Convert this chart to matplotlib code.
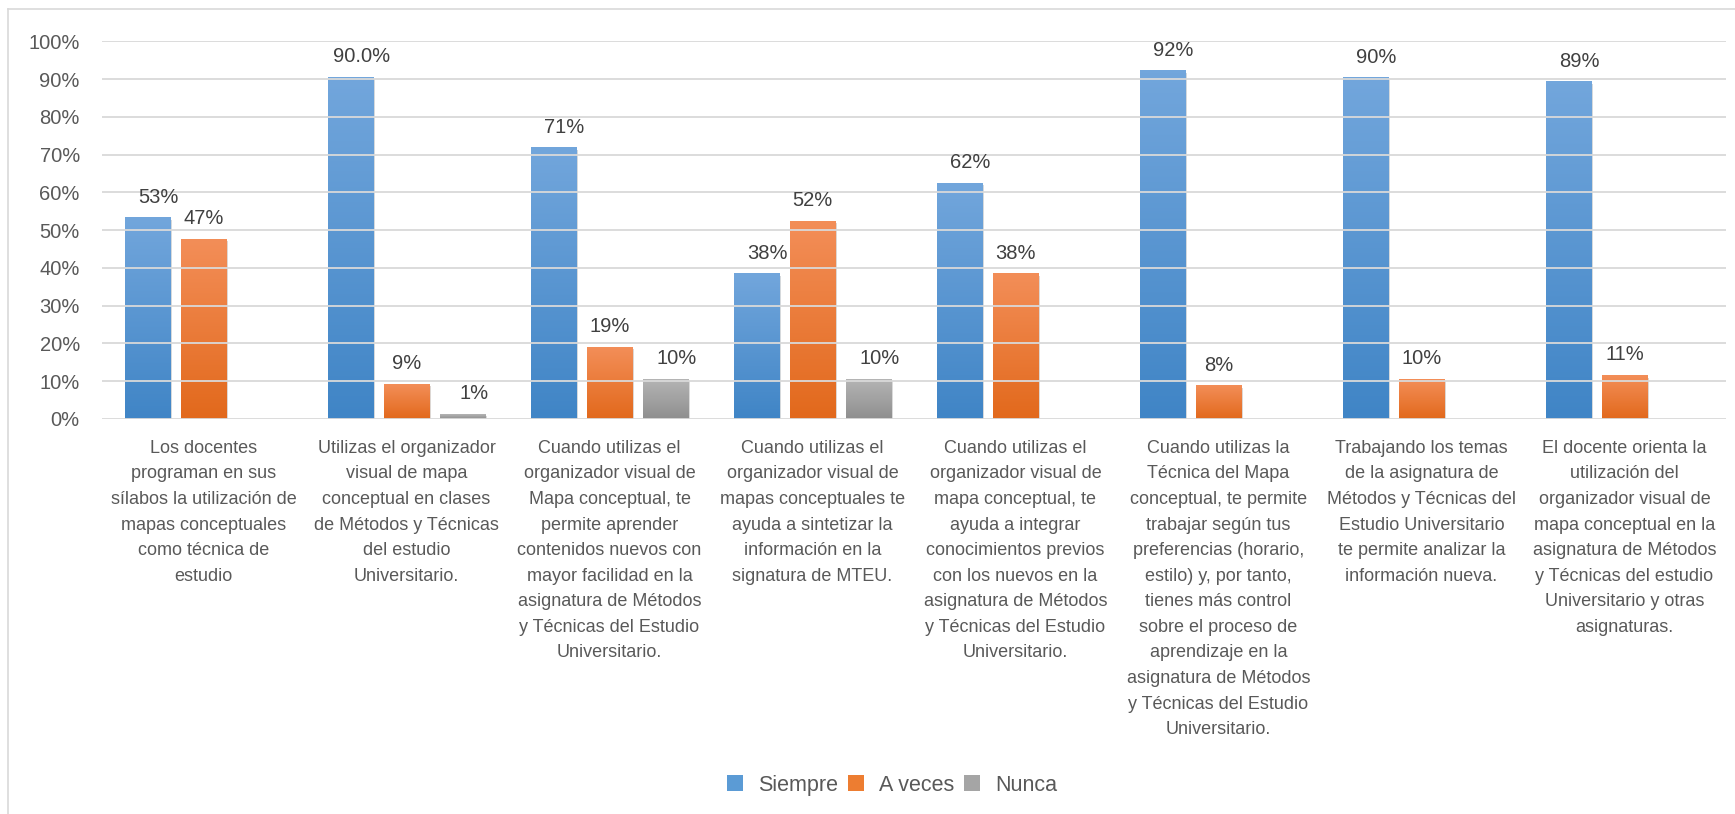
import numpy as np
import matplotlib
matplotlib.use('Agg')
import matplotlib.pyplot as plt
from matplotlib.colors import LinearSegmentedColormap
from matplotlib.lines import Line2D
from matplotlib.patches import Patch
import matplotlib.patheffects as pe

# Data
categories = [
    "Los docentes\nprograman en sus\nsílabos la utilización de\nmapas conceptuales\ncomo técnica de\nestudio",
    "Utilizas el organizador\nvisual de mapa\nconceptual en clases\nde Métodos y Técnicas\ndel estudio\nUniversitario.",
    "Cuando utilizas el\norganizador visual de\nMapa conceptual, te\npermite aprender\ncontenidos nuevos con\nmayor facilidad en la\nasignatura de Métodos\ny Técnicas del Estudio\nUniversitario.",
    "Cuando utilizas el\norganizador visual de\nmapas conceptuales te\nayuda a sintetizar la\ninformación en la\nsignatura de MTEU.",
    "Cuando utilizas el\norganizador visual de\nmapa conceptual, te\nayuda a integrar\nconocimientos previos\ncon los nuevos en la\nasignatura de Métodos\ny Técnicas del Estudio\nUniversitario.",
    "Cuando utilizas la\nTécnica del Mapa\nconceptual, te permite\ntrabajar según tus\npreferencias (horario,\nestilo) y, por tanto,\ntienes más control\nsobre el proceso de\naprendizaje en la\nasignatura de Métodos\ny Técnicas del Estudio\nUniversitario.",
    "Trabajando los temas\nde la asignatura de\nMétodos y Técnicas del\nEstudio Universitario\nte permite analizar la\ninformación nueva.",
    "El docente orienta la\nutilización del\norganizador visual de\nmapa conceptual en la\nasignatura de Métodos\ny Técnicas del estudio\nUniversitario y otras\nasignaturas.",
]
series_names = ['Siempre', 'A veces', 'Nunca']
siempre = [53.3, 90.5, 71.8, 38.4, 62.4, 92.2, 90.3, 89.3]
a_veces = [47.6, 9.2, 19.0, 52.4, 38.4, 8.8, 10.5, 11.5]
nunca = [0, 1.3, 10.5, 10.5, 0, 0, 0, 0]
siempre_lbl = ['53%', '90.0%', '71%', '38%', '62%', '92%', '90%', '89%']
a_veces_lbl = ['47%', '9%', '19%', '52%', '38%', '8%', '10%', '11%']
nunca_lbl = ['', '1%', '10%', '10%', '', '', '', '']

# top / bottom colours for each series gradient
grad_colors = [('#72a6dc', '#4085c6'), ('#f38e58', '#e2691c'), ('#b5b5b5', '#8e8e8e')]
legend_colors = ['#5b9bd5', '#ed7d31', '#a5a5a5']

plt.rcParams['font.family'] = ['Liberation Sans', 'DejaVu Sans']
text_color = '#595959'
grid_color = '#d9d9d9'

fig = plt.figure(figsize=(17.35, 8.14), dpi=100)
ax = fig.add_axes([0.0588, 0.4853, 0.936, 0.464])

x = np.arange(len(categories))
width = 0.222
offset = 0.276
all_values = [siempre, a_veces, nunca]
all_labels = [siempre_lbl, a_veces_lbl, nunca_lbl]
label_dx = [8, 0, 8]

for i, (vals, lbls) in enumerate(zip(all_values, all_labels)):
    pos = x + (i - 1) * offset
    bars = ax.bar(pos, vals, width, color=legend_colors[i], zorder=1,
                  path_effects=[pe.SimplePatchShadow(offset=(1.5, -1.5), alpha=0.18),
                                pe.Normal()])
    cmap = LinearSegmentedColormap.from_list('g%d' % i, [grad_colors[i][1], grad_colors[i][0]])
    grad = np.linspace(0, 1, 100).reshape(-1, 1)
    for rect, lbl in zip(bars, lbls):
        h = rect.get_height()
        if h > 0:
            bx = rect.get_x()
            ax.imshow(grad, extent=[bx, bx + rect.get_width(), 0, h], origin='lower',
                      cmap=cmap, aspect='auto', zorder=1.5, interpolation='bicubic')
        if lbl:
            ax.annotate(lbl, (rect.get_x() + rect.get_width() / 2, h),
                        xytext=(label_dx[i], 8), textcoords='offset points',
                        ha='center', va='bottom', fontsize=14.5, color='#404040',
                        zorder=4, annotation_clip=False)

ax.set_xlim(-0.5, len(categories) - 0.5)
ax.set_ylim(0, 100)
ax.set_yticks(np.arange(0, 101, 10))
ax.set_yticklabels(['%d%%' % v for v in range(0, 101, 10)], fontsize=14.5, color=text_color)
ax.set_xticks(x)
ax.set_xticklabels(categories, fontsize=13, color=text_color, ma='center', linespacing=1.66)
ax.tick_params(axis='both', length=0)
ax.tick_params(axis='y', pad=16)
ax.tick_params(axis='x', pad=15)
ax.yaxis.grid(True, color=grid_color, linewidth=1.3)
ax.set_axisbelow(False)
for gl in ax.get_ygridlines():
    gl.set_zorder(2.5)
for s in ax.spines.values():
    s.set_visible(False)

# legend
handles = [Patch(facecolor=c, edgecolor='none') for c in legend_colors]
fig.legend(handles, series_names, loc='center', bbox_to_anchor=(0.514, 0.0356),
           ncol=3, frameon=False, fontsize=15.5, labelcolor=text_color,
           handlelength=0.75, handleheight=0.75, handletextpad=0.7, columnspacing=0.45)

# chart frame (top and left edges visible)
fig.add_artist(Line2D([0.0046, 1.0], [0.989, 0.989], color=grid_color, lw=1.2))
fig.add_artist(Line2D([0.0046, 0.0046], [0.0, 0.989], color=grid_color, lw=1.2))

fig.savefig('out.png', dpi=100)
